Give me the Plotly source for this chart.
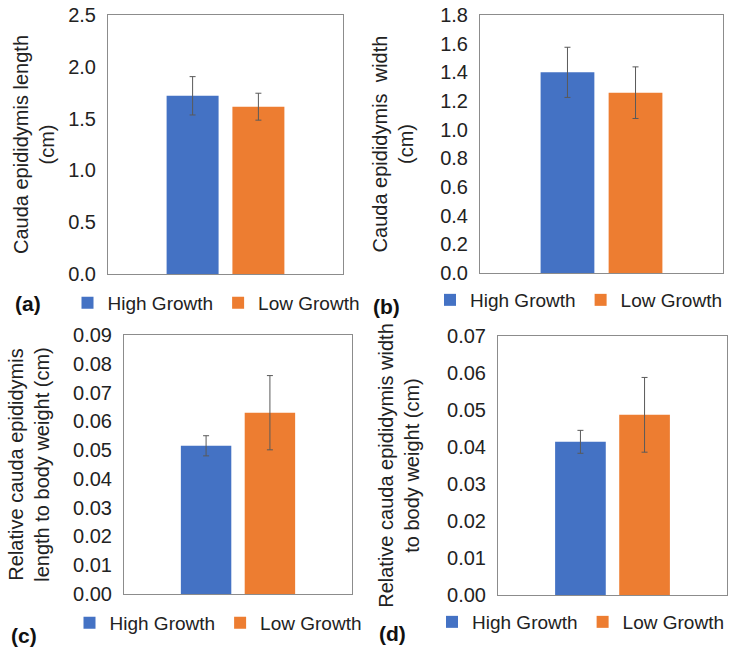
import plotly.graph_objects as go

# ---- data ----
groups = ["High Growth", "Low Growth"]
colors = ["#4472C4", "#ED7D31"]

length_vals = [1.72, 1.615]
length_err = [0.185, 0.13]

width_vals = [1.40, 1.258]
width_err = [0.175, 0.18]

rel_length_vals = [0.0515, 0.063]
rel_length_err = [0.0035, 0.0129]

rel_width_vals = [0.0414, 0.0487]
rel_width_err = [0.0031, 0.0101]

panel_labels = ["(a)", "(b)", "(c)", "(d)"]
y_titles = [
    "Cauda epididymis length<br>(cm)",
    "Cauda epididymis  width<br>(cm)",
    "Relative cauda epididymis<br>length to body weight (cm)",
    "Relative cauda epididymis width<br>to body weight (cm)",
]
y_ranges = [[0, 2.5], [0, 1.8], [0, 0.09], [0, 0.07]]
y_dticks = [0.5, 0.2, 0.01, 0.01]
y_formats = [".1f", ".1f", ".2f", ".2f"]

panels = [
    (length_vals, length_err),
    (width_vals, width_err),
    (rel_length_vals, rel_length_err),
    (rel_width_vals, rel_width_err),
]

# ---- layout geometry (paper fractions) ----
W, H = 730, 649
x_domains = [[108 / W, 343 / W], [480 / W, 723 / W], [124 / W, 352 / W], [498 / W, 727 / W]]
y_domains = [
    [1 - 274 / H, 1 - 15 / H],
    [1 - 273 / H, 1 - 15 / H],
    [1 - 594 / H, 1 - 335 / H],
    [1 - 595 / H, 1 - 336 / H],
]
# (x, y, xanchor)
legend_pos = [(216 / W, 1 - 303 / H, "center"), (727 / W, 1 - 300 / H, "right"),
              (218 / W, 1 - 623 / H, "center"), (729 / W, 1 - 622 / H, "right")]
label_pos = [(28 / W, 1 - 303 / H, "middle"), (386 / W, 1 - 306 / H, "middle"),
             (24 / W, 0, "bottom"), (392 / W, 2 / H, "bottom")]
title_standoff = [8, 21, 18, 22]

FONT = "Liberation Sans, Arial, sans-serif"
TXT = "#222222"

fig = go.Figure()
layout = dict(
    width=W, height=H,
    margin=dict(l=0, r=0, t=0, b=0),
    paper_bgcolor="white", plot_bgcolor="white",
    font=dict(family=FONT, size=19, color=TXT),
    barmode="group", bargap=0.44, bargroupgap=0.21,
    showlegend=True,
)

annotations = []
for i, (vals, errs) in enumerate(panels):
    n = "" if i == 0 else str(i + 1)
    leg = "legend" if i == 0 else f"legend{i + 1}"
    for g, v, e, c in zip(groups, vals, errs, colors):
        fig.add_trace(go.Bar(
            x=[""], y=[v], name=g,
            marker=dict(color=c, line=dict(width=0)),
            error_y=dict(type="data", array=[e], visible=True,
                         color="#5a5a5a", thickness=1, width=3),
            xaxis="x" + n, yaxis="y" + n, legend=leg,
        ))
    layout["xaxis" + n] = dict(
        domain=x_domains[i], anchor="y" + n,
        showticklabels=False, ticks="", showgrid=False,
        showline=True, mirror=True, linecolor="#8c8c8c", linewidth=1,
        zeroline=False,
    )
    layout["yaxis" + n] = dict(
        domain=y_domains[i], anchor="x" + n,
        range=y_ranges[i], dtick=y_dticks[i], tick0=0, tickformat=y_formats[i],
        showgrid=False, zeroline=False,
        ticks="outside", ticklen=7, tickcolor="rgba(0,0,0,0)",
        showline=True, mirror=True, linecolor="#8c8c8c", linewidth=1,
        tickfont=dict(size=20, color=TXT),
        title=dict(text=y_titles[i], font=dict(size=20, color=TXT), standoff=title_standoff[i]),
        automargin=False,
    )
    lx, ly, xa = legend_pos[i]
    layout[leg] = dict(
        orientation="h", x=lx, y=ly, xanchor=xa, yanchor="middle",
        font=dict(size=19, color=TXT), bgcolor="rgba(0,0,0,0)",
        itemclick=False, itemdoubleclick=False,
    )
    px, py, ya = label_pos[i]
    annotations.append(dict(
        text="<b>" + panel_labels[i] + "</b>", x=px, y=py, xref="paper", yref="paper",
        showarrow=False, xanchor="center", yanchor=ya,
        font=dict(size=21, color="#111111", family=FONT),
    ))

layout["annotations"] = annotations
fig.update_layout(**layout)
fig.write_html("out.html", config={"displayModeBar": False},
               post_script="document.body.style.margin='0';")
